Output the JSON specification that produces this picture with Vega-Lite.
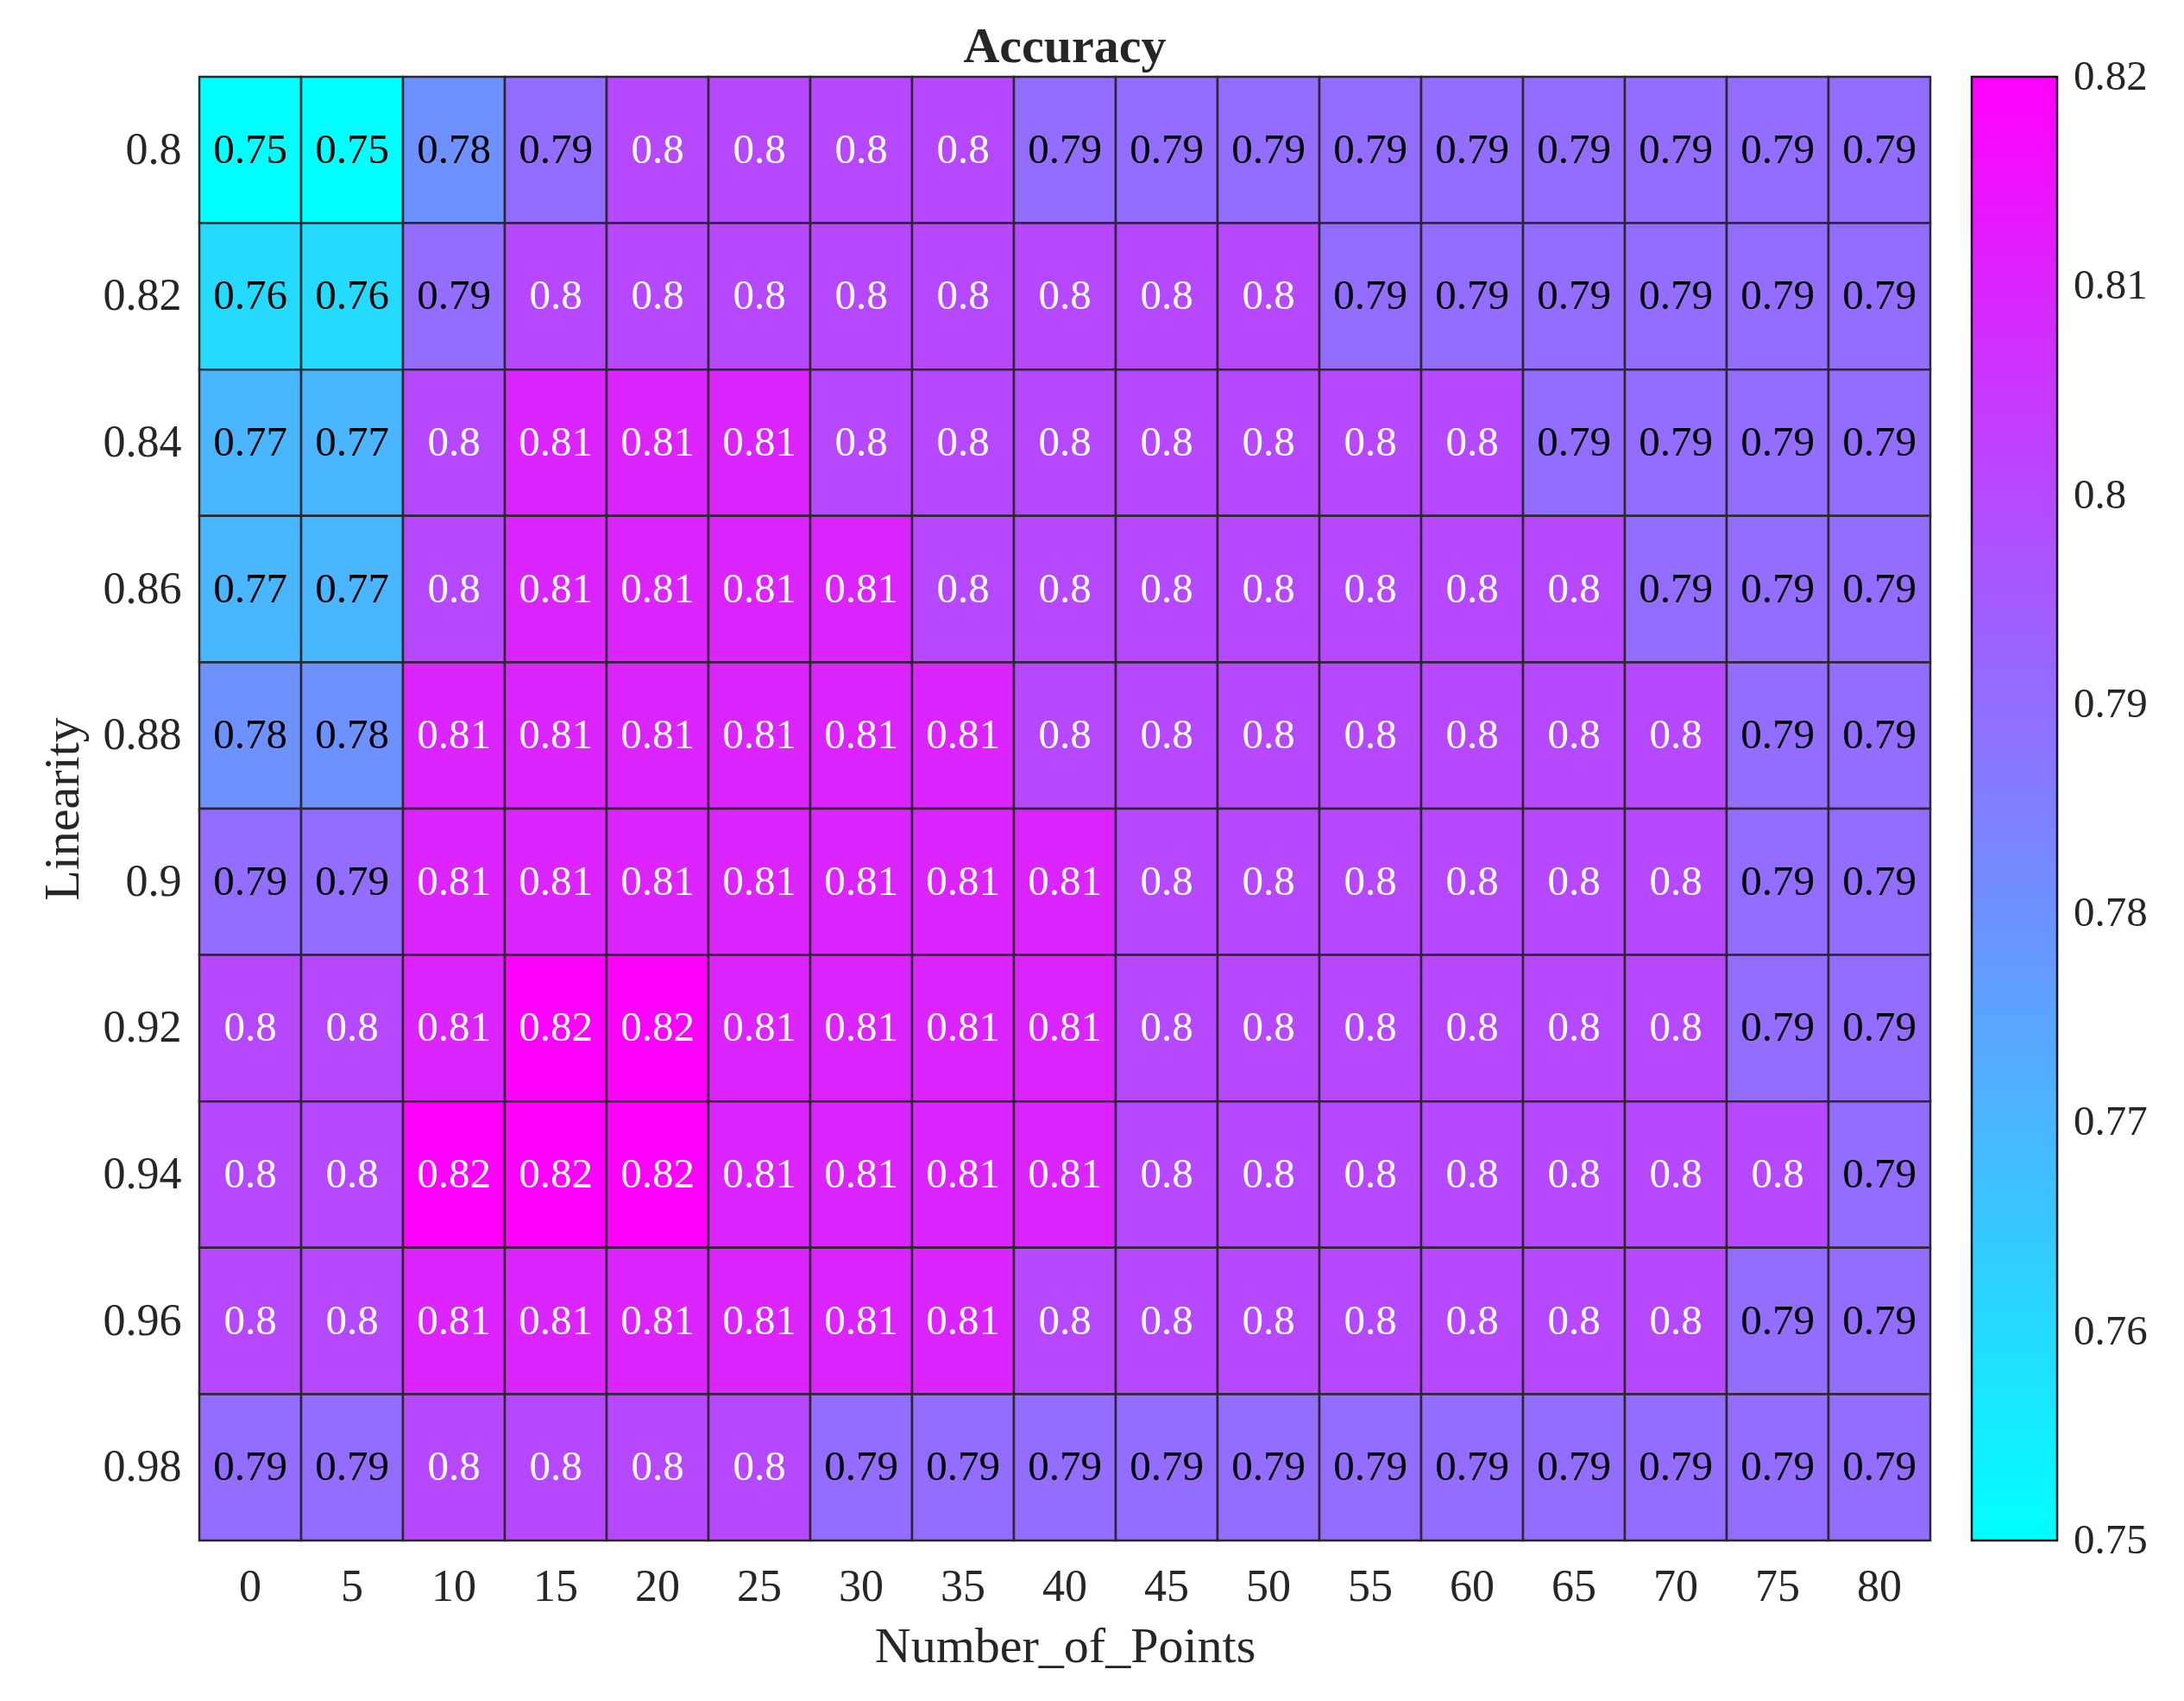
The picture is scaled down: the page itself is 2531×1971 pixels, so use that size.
{
"$schema": "https://vega.github.io/schema/vega-lite/v6.json",
"width": 2006, "height": 1696,
"autosize": {"type": "none"},
"padding": {"left": 231, "top": 89, "right": 294, "bottom": 186},
"background": "white",
"config": {"view": {"stroke": null}, "font": "Liberation Serif"},
"title": {"text": "Accuracy", "fontSize": 58, "fontWeight": "bold", "font": "Liberation Serif", "color": "#262626", "anchor": "middle", "frame": "group", "baseline": "bottom", "offset": 3, "dy": 57},
"data": {"values": [
{"L":0.8,"N":0,"v":0.75},{"L":0.8,"N":5,"v":0.75},{"L":0.8,"N":10,"v":0.78},{"L":0.8,"N":15,"v":0.79},{"L":0.8,"N":20,"v":0.8},{"L":0.8,"N":25,"v":0.8},{"L":0.8,"N":30,"v":0.8},{"L":0.8,"N":35,"v":0.8},{"L":0.8,"N":40,"v":0.79},{"L":0.8,"N":45,"v":0.79},{"L":0.8,"N":50,"v":0.79},{"L":0.8,"N":55,"v":0.79},{"L":0.8,"N":60,"v":0.79},{"L":0.8,"N":65,"v":0.79},{"L":0.8,"N":70,"v":0.79},{"L":0.8,"N":75,"v":0.79},{"L":0.8,"N":80,"v":0.79},
{"L":0.82,"N":0,"v":0.76},{"L":0.82,"N":5,"v":0.76},{"L":0.82,"N":10,"v":0.79},{"L":0.82,"N":15,"v":0.8},{"L":0.82,"N":20,"v":0.8},{"L":0.82,"N":25,"v":0.8},{"L":0.82,"N":30,"v":0.8},{"L":0.82,"N":35,"v":0.8},{"L":0.82,"N":40,"v":0.8},{"L":0.82,"N":45,"v":0.8},{"L":0.82,"N":50,"v":0.8},{"L":0.82,"N":55,"v":0.79},{"L":0.82,"N":60,"v":0.79},{"L":0.82,"N":65,"v":0.79},{"L":0.82,"N":70,"v":0.79},{"L":0.82,"N":75,"v":0.79},{"L":0.82,"N":80,"v":0.79},
{"L":0.84,"N":0,"v":0.77},{"L":0.84,"N":5,"v":0.77},{"L":0.84,"N":10,"v":0.8},{"L":0.84,"N":15,"v":0.81},{"L":0.84,"N":20,"v":0.81},{"L":0.84,"N":25,"v":0.81},{"L":0.84,"N":30,"v":0.8},{"L":0.84,"N":35,"v":0.8},{"L":0.84,"N":40,"v":0.8},{"L":0.84,"N":45,"v":0.8},{"L":0.84,"N":50,"v":0.8},{"L":0.84,"N":55,"v":0.8},{"L":0.84,"N":60,"v":0.8},{"L":0.84,"N":65,"v":0.79},{"L":0.84,"N":70,"v":0.79},{"L":0.84,"N":75,"v":0.79},{"L":0.84,"N":80,"v":0.79},
{"L":0.86,"N":0,"v":0.77},{"L":0.86,"N":5,"v":0.77},{"L":0.86,"N":10,"v":0.8},{"L":0.86,"N":15,"v":0.81},{"L":0.86,"N":20,"v":0.81},{"L":0.86,"N":25,"v":0.81},{"L":0.86,"N":30,"v":0.81},{"L":0.86,"N":35,"v":0.8},{"L":0.86,"N":40,"v":0.8},{"L":0.86,"N":45,"v":0.8},{"L":0.86,"N":50,"v":0.8},{"L":0.86,"N":55,"v":0.8},{"L":0.86,"N":60,"v":0.8},{"L":0.86,"N":65,"v":0.8},{"L":0.86,"N":70,"v":0.79},{"L":0.86,"N":75,"v":0.79},{"L":0.86,"N":80,"v":0.79},
{"L":0.88,"N":0,"v":0.78},{"L":0.88,"N":5,"v":0.78},{"L":0.88,"N":10,"v":0.81},{"L":0.88,"N":15,"v":0.81},{"L":0.88,"N":20,"v":0.81},{"L":0.88,"N":25,"v":0.81},{"L":0.88,"N":30,"v":0.81},{"L":0.88,"N":35,"v":0.81},{"L":0.88,"N":40,"v":0.8},{"L":0.88,"N":45,"v":0.8},{"L":0.88,"N":50,"v":0.8},{"L":0.88,"N":55,"v":0.8},{"L":0.88,"N":60,"v":0.8},{"L":0.88,"N":65,"v":0.8},{"L":0.88,"N":70,"v":0.8},{"L":0.88,"N":75,"v":0.79},{"L":0.88,"N":80,"v":0.79},
{"L":0.9,"N":0,"v":0.79},{"L":0.9,"N":5,"v":0.79},{"L":0.9,"N":10,"v":0.81},{"L":0.9,"N":15,"v":0.81},{"L":0.9,"N":20,"v":0.81},{"L":0.9,"N":25,"v":0.81},{"L":0.9,"N":30,"v":0.81},{"L":0.9,"N":35,"v":0.81},{"L":0.9,"N":40,"v":0.81},{"L":0.9,"N":45,"v":0.8},{"L":0.9,"N":50,"v":0.8},{"L":0.9,"N":55,"v":0.8},{"L":0.9,"N":60,"v":0.8},{"L":0.9,"N":65,"v":0.8},{"L":0.9,"N":70,"v":0.8},{"L":0.9,"N":75,"v":0.79},{"L":0.9,"N":80,"v":0.79},
{"L":0.92,"N":0,"v":0.8},{"L":0.92,"N":5,"v":0.8},{"L":0.92,"N":10,"v":0.81},{"L":0.92,"N":15,"v":0.82},{"L":0.92,"N":20,"v":0.82},{"L":0.92,"N":25,"v":0.81},{"L":0.92,"N":30,"v":0.81},{"L":0.92,"N":35,"v":0.81},{"L":0.92,"N":40,"v":0.81},{"L":0.92,"N":45,"v":0.8},{"L":0.92,"N":50,"v":0.8},{"L":0.92,"N":55,"v":0.8},{"L":0.92,"N":60,"v":0.8},{"L":0.92,"N":65,"v":0.8},{"L":0.92,"N":70,"v":0.8},{"L":0.92,"N":75,"v":0.79},{"L":0.92,"N":80,"v":0.79},
{"L":0.94,"N":0,"v":0.8},{"L":0.94,"N":5,"v":0.8},{"L":0.94,"N":10,"v":0.82},{"L":0.94,"N":15,"v":0.82},{"L":0.94,"N":20,"v":0.82},{"L":0.94,"N":25,"v":0.81},{"L":0.94,"N":30,"v":0.81},{"L":0.94,"N":35,"v":0.81},{"L":0.94,"N":40,"v":0.81},{"L":0.94,"N":45,"v":0.8},{"L":0.94,"N":50,"v":0.8},{"L":0.94,"N":55,"v":0.8},{"L":0.94,"N":60,"v":0.8},{"L":0.94,"N":65,"v":0.8},{"L":0.94,"N":70,"v":0.8},{"L":0.94,"N":75,"v":0.8},{"L":0.94,"N":80,"v":0.79},
{"L":0.96,"N":0,"v":0.8},{"L":0.96,"N":5,"v":0.8},{"L":0.96,"N":10,"v":0.81},{"L":0.96,"N":15,"v":0.81},{"L":0.96,"N":20,"v":0.81},{"L":0.96,"N":25,"v":0.81},{"L":0.96,"N":30,"v":0.81},{"L":0.96,"N":35,"v":0.81},{"L":0.96,"N":40,"v":0.8},{"L":0.96,"N":45,"v":0.8},{"L":0.96,"N":50,"v":0.8},{"L":0.96,"N":55,"v":0.8},{"L":0.96,"N":60,"v":0.8},{"L":0.96,"N":65,"v":0.8},{"L":0.96,"N":70,"v":0.8},{"L":0.96,"N":75,"v":0.79},{"L":0.96,"N":80,"v":0.79},
{"L":0.98,"N":0,"v":0.79},{"L":0.98,"N":5,"v":0.79},{"L":0.98,"N":10,"v":0.8},{"L":0.98,"N":15,"v":0.8},{"L":0.98,"N":20,"v":0.8},{"L":0.98,"N":25,"v":0.8},{"L":0.98,"N":30,"v":0.79},{"L":0.98,"N":35,"v":0.79},{"L":0.98,"N":40,"v":0.79},{"L":0.98,"N":45,"v":0.79},{"L":0.98,"N":50,"v":0.79},{"L":0.98,"N":55,"v":0.79},{"L":0.98,"N":60,"v":0.79},{"L":0.98,"N":65,"v":0.79},{"L":0.98,"N":70,"v":0.79},{"L":0.98,"N":75,"v":0.79},{"L":0.98,"N":80,"v":0.79}
]},
"encoding": {
  "x": {"field": "N", "type": "ordinal", "title": "Number_of_Points",
        "scale": {"paddingInner": 0, "paddingOuter": 0},
        "axis": {"labelAngle": 0, "labelFontSize": 52, "labelFont": "Liberation Serif", "labelColor": "#262626", "labelPadding": 28, "ticks": false, "domain": false, "grid": false,
                 "titleFontSize": 58, "titleFont": "Liberation Serif", "titleFontWeight": "normal", "titleColor": "#262626", "titleY": 140, "titleBaseline": "alphabetic"}},
  "y": {"field": "L", "type": "ordinal", "title": "Linearity",
        "scale": {"paddingInner": 0, "paddingOuter": 0},
        "axis": {"labelFontSize": 52, "labelFont": "Liberation Serif", "labelColor": "#262626", "labelPadding": 21, "ticks": false, "domain": false, "grid": false,
                 "titleFontSize": 58, "titleFont": "Liberation Serif", "titleFontWeight": "normal", "titleColor": "#262626", "titleAngle": -90, "titleX": -141, "titleY": 848, "titleAlign": "center", "titleBaseline": "alphabetic"}}
},
"layer": [
  {"mark": {"type": "rect", "stroke": "#2a2a2a", "strokeWidth": 2.5},
   "encoding": {"color": {"field": "v", "type": "quantitative",
      "scale": {"domain": [0.75, 0.82], "range": ["#00ffff", "#ff00ff"], "interpolate": "rgb"},
      "legend": {"orient": "none", "legendX": 2054, "legendY": 0, "direction": "vertical", "gradientLength": 1696, "gradientThickness": 99,
                 "gradientStrokeColor": "#111111", "gradientStrokeWidth": 2.5, "values": [0.75, 0.76, 0.77, 0.78, 0.79, 0.8, 0.81, 0.82], "format": ".2~f",
                 "labelFontSize": 49, "labelFont": "Liberation Serif", "labelColor": "#262626", "labelOffset": 19, "labelOverlap": false, "labelBaseline": "middle", "title": null,
                 "encoding": {"labels": {"baseline": {"value": "middle"}}}}}}},
  {"mark": {"type": "text", "font": "Liberation Serif", "fontSize": 49},
   "encoding": {"text": {"field": "v", "type": "quantitative", "format": ".2~f"},
      "color": {"condition": {"test": "datum.v >= 0.795", "value": "white"}, "value": "black"}}}
]
}
